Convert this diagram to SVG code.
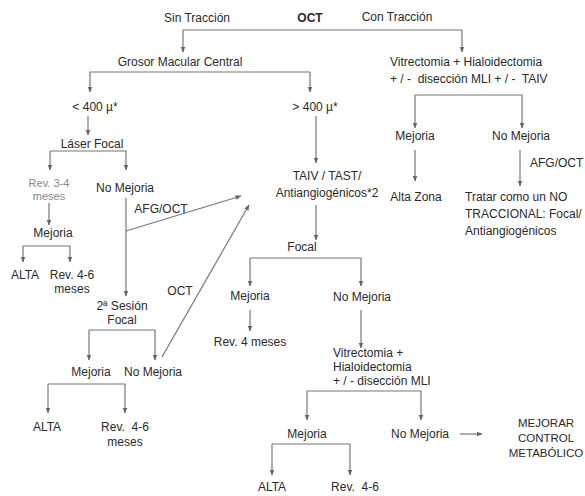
<svg xmlns="http://www.w3.org/2000/svg" width="585" height="496" viewBox="0 0 585 496">
<defs>
<marker id="ah" viewBox="0 0 10 10" refX="9" refY="5" markerWidth="6" markerHeight="6" orient="auto" markerUnits="userSpaceOnUse">
<path d="M0,1 L10,5 L0,9 z" fill="#666"/>
</marker>
</defs>
<style>
text{font-family:"Liberation Sans",Arial,sans-serif;font-size:12px;fill:#2a2a2a;}
.m{text-anchor:middle;}
.b{font-weight:bold;}
.g{fill:#888;font-size:11px;}
.s{font-size:11.5px;}
.c path,.c line{stroke:#777;stroke-width:1.2;fill:none;}
.a{marker-end:url(#ah);}
</style>
<rect width="585" height="496" fill="#fff"/>
<g class="c" id="connectors">
<path class="a" d="M462,30 H183 V52"/>
<path class="a" d="M462,30 V52"/>
<path class="a" d="M310,72 H90 V92"/>
<path class="a" d="M310,72 V92"/>
<path class="a" d="M415,95 V128"/>
<path class="a" d="M415,95 H522 V128"/>
<line class="a" x1="415" y1="150" x2="415" y2="181"/>
<line class="a" x1="520" y1="150" x2="520" y2="186"/>
<line class="a" x1="316" y1="116" x2="316" y2="163"/>
<line class="a" x1="316" y1="205" x2="316" y2="240"/>
<path class="a" d="M250,258 V286"/>
<path class="a" d="M250,258 H361 V286"/>
<line class="a" x1="250" y1="310" x2="250" y2="331"/>
<line class="a" x1="361" y1="310" x2="361" y2="348"/>
<path class="a" d="M307,391 V420"/>
<path class="a" d="M307,391 H421 V420"/>
<line class="a" x1="460" y1="434" x2="482" y2="434"/>
<path class="a" d="M272,444 V475"/>
<path class="a" d="M272,444 H350 V475"/>
<line class="a" x1="88" y1="116" x2="88" y2="135"/>
<path class="a" d="M50,151 V170"/>
<path class="a" d="M50,151 H126 V170"/>
<line class="a" x1="49" y1="203" x2="49" y2="225"/>
<path class="a" d="M23,246 V262"/>
<path class="a" d="M23,246 H70 V262"/>
<line class="a" x1="126" y1="198" x2="126" y2="296"/>
<line class="a" x1="126" y1="231" x2="241" y2="196"/>
<line class="a" x1="162" y1="357" x2="249" y2="205"/>
<path class="a" d="M89,330 V360"/>
<path class="a" d="M89,330 H155 V360"/>
<path class="a" d="M48,384 V413"/>
<path class="a" d="M48,384 H125 V413"/>
</g>
<g id="top">
<text class="m" x="197" y="22">Sin Tracción</text>
<text class="m b" x="310" y="22">OCT</text>
<text class="m" x="397" y="21">Con Tracción</text>
</g>
<g id="grosor"><text class="m" x="180" y="66">Grosor Macular Central</text></g>
<g id="vitrec1">
<text x="390" y="66">Vitrectomia + Hialoidectomia</text>
<text x="390" y="83" xml:space="preserve">+ / -  disección MLI + / -  TAIV</text>
</g>
<g id="mej-r"><text class="m" x="415" y="140">Mejoria</text></g>
<g id="nomej-r"><text class="m" x="521" y="140">No Mejoria</text></g>
<g id="alta-zona"><text class="m" x="416" y="201">Alta Zona</text></g>
<g id="afg-r"><text x="530" y="167">AFG/OCT</text></g>
<g id="tratar">
<text x="465" y="201">Tratar como un NO</text>
<text x="465" y="218">TRACCIONAL: Focal/</text>
<text x="465" y="235">Antiangiogénicos</text>
</g>
<g id="gt400"><text class="m" x="315" y="111">&gt; 400 µ*</text></g>
<g id="taiv">
<text class="m" x="327" y="180">TAIV / TAST/</text>
<text class="m" x="327" y="197">Antiangiogénicos*2</text>
</g>
<g id="focal-m"><text class="m" x="302" y="251">Focal</text></g>
<g id="mej-m"><text class="m" x="250" y="300">Mejoria</text></g>
<g id="nomej-m"><text class="m" x="362" y="301">No Mejoria</text></g>
<g id="rev4"><text class="m" x="250" y="346">Rev. 4 meses</text></g>
<g id="vitrec2">
<text x="333" y="357">Vitrectomia +</text>
<text x="333" y="371">Hialoidectomia</text>
<text x="333" y="385">+ / - disección MLI</text>
</g>
<g id="mej-b"><text class="m" x="307" y="438">Mejoria</text></g>
<g id="nomej-b"><text class="m" x="420" y="438">No Mejoria</text></g>
<g id="mejorar">
<text class="m s" x="546" y="427">MEJORAR</text>
<text class="m s" x="546" y="442">CONTROL</text>
<text class="m s" x="546" y="457">METABÓLICO</text>
</g>
<g id="alta-b"><text class="m" x="272" y="491">ALTA</text></g>
<g id="rev46-b"><text class="m" x="355" y="491" xml:space="preserve">Rev.  4-6</text></g>
<g id="lt400"><text class="m" x="95" y="111">&lt; 400 µ*</text></g>
<g id="laser"><text class="m" x="92" y="148">Láser Focal</text></g>
<g id="rev34">
<text class="m g" x="49" y="187">Rev. 3-4</text>
<text class="m g" x="49" y="200">meses</text>
</g>
<g id="nomej-l"><text class="m" x="125" y="192">No Mejoria</text></g>
<g id="mej-l"><text class="m" x="53" y="237">Mejoria</text></g>
<g id="alta-l"><text class="m" x="25" y="279">ALTA</text></g>
<g id="rev46-l">
<text class="m" x="72" y="279">Rev. 4-6</text>
<text class="m" x="72" y="293">meses</text>
</g>
<g id="afg-l"><text class="m" x="161" y="213">AFG/OCT</text></g>
<g id="oct-l"><text class="m" x="180" y="295">OCT</text></g>
<g id="sesion2">
<text class="m" x="122" y="310">2ª Sesión</text>
<text class="m" x="122" y="324">Focal</text>
</g>
<g id="mej-l2"><text class="m" x="91" y="376">Mejoria</text></g>
<g id="nomej-l2"><text class="m" x="153" y="376">No Mejoria</text></g>
<g id="alta-l2"><text class="m" x="47" y="431">ALTA</text></g>
<g id="rev46-l2">
<text class="m" x="125" y="431" xml:space="preserve">Rev.  4-6</text>
<text class="m" x="125" y="446">meses</text>
</g>
</svg>
